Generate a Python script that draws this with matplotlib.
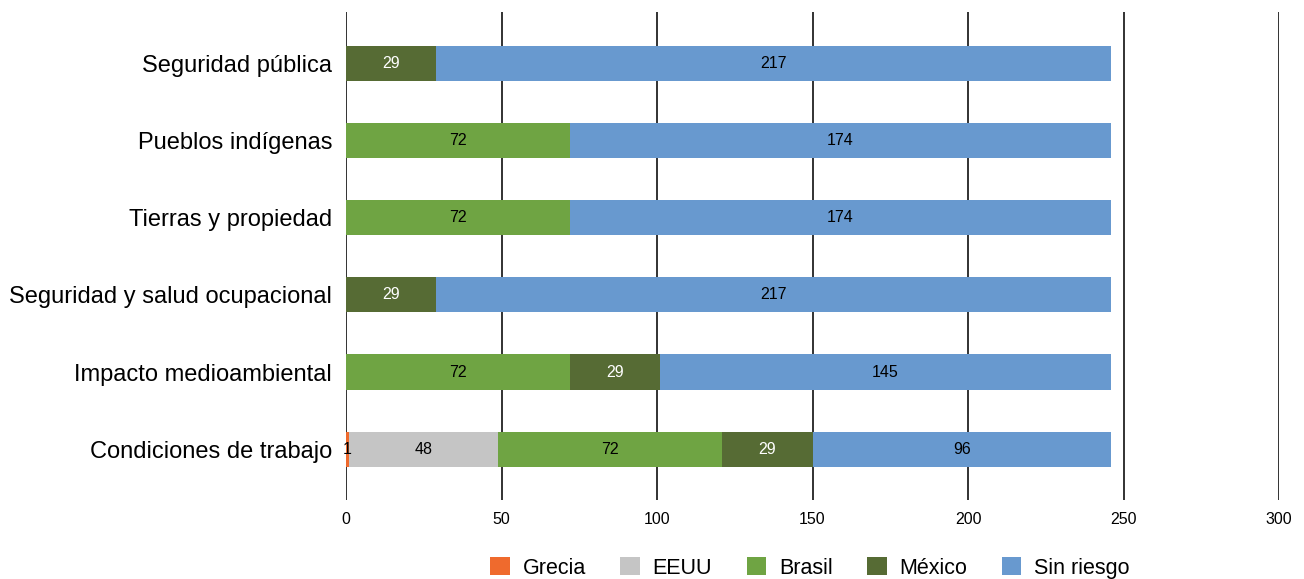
import matplotlib
matplotlib.use("Agg")
import matplotlib.pyplot as plt
import numpy as np

plt.rcParams['font.family'] = ['Liberation Sans', 'DejaVu Sans']

categories = ["Condiciones de trabajo", "Impacto medioambiental",
              "Seguridad y salud ocupacional", "Tierras y propiedad",
              "Pueblos indígenas", "Seguridad pública"]
series_names = ["Grecia", "EEUU", "Brasil", "México", "Sin riesgo"]
grecia = [1, 0, 0, 0, 0, 0]
eeuu = [48, 0, 0, 0, 0, 0]
brasil = [72, 72, 0, 72, 72, 0]
mexico = [29, 29, 29, 0, 0, 29]
sin_riesgo = [96, 145, 217, 174, 174, 217]
xticks = [0, 50, 100, 150, 200, 250, 300]

colors = ["#EF6A2D", "#C5C5C5", "#6FA443", "#566B34", "#6899CF"]
text_colors = ["black", "black", "black", "white", "black"]

fig = plt.figure(figsize=(13.04, 5.79), dpi=100)
ax = fig.add_axes([346/1304, 1-500/579, (1279-346)/1304, 488/579])

y = np.arange(len(categories))
left = np.zeros(len(categories))
for name, vals, c, tc in zip(series_names, [grecia, eeuu, brasil, mexico, sin_riesgo], colors, text_colors):
    vals = np.array(vals, dtype=float)
    ax.barh(y, vals, left=left, height=0.455, color=c, label=name, zorder=2)
    for yi, (l, v) in enumerate(zip(left, vals)):
        if v > 0:
            ax.text(l + v/2, yi, f"{int(v)}", ha="center", va="center",
                    color=tc, fontsize=11.5, zorder=3)
    left += vals

ax.set_xlim(0, 300)
ax.set_ylim(-0.66, len(categories) - 1 + 0.67)
ax.set_xticks(xticks)
ax.set_xticklabels([str(t) for t in xticks], fontsize=11.5)
ax.set_yticks(y)
ax.set_yticklabels(categories, fontsize=17)
for t in xticks:
    ax.axvline(t, color="#222222", lw=1.3, zorder=1)
for s in ax.spines.values():
    s.set_visible(False)
ax.tick_params(axis="both", length=0)
ax.tick_params(axis="y", pad=10)
ax.tick_params(axis="x", pad=9)

handles, labels = ax.get_legend_handles_labels()
fig.legend(handles, labels, loc="center", bbox_to_anchor=(810/1304, 1-568/579),
           ncol=5, frameon=False, fontsize=15.5, handlelength=0.9, handleheight=0.9,
           columnspacing=1.6, handletextpad=0.6)

fig.savefig("out.png", dpi=100)
